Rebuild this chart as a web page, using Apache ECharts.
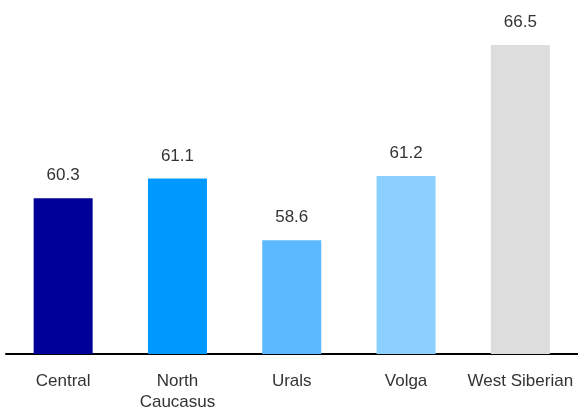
<!DOCTYPE html>
<html>
<head>
<meta charset="utf-8">
<script src="https://cdn.jsdelivr.net/npm/echarts@6/dist/echarts.min.js"></script>
<style>
  html, body { margin: 0; padding: 0; background: #fff; }
  #chart { width: 578px; height: 410px; }
</style>
</head>
<body>
<div id="chart"></div>
<script>
// Regions and their values
var categories = ['Central', 'North\nCaucasus', 'Urals', 'Volga', 'West Siberian'];
var values = [60.3, 61.1, 58.6, 61.2, 66.5];
var barColors = ['#000099', '#0099ff', '#5cb8ff', '#8bd0ff', '#dddddd'];

var chart = echarts.init(document.getElementById('chart'), null, { renderer: 'canvas' });

chart.setOption({
  animation: false,
  backgroundColor: '#ffffff',
  grid: { left: 6, right: 0.5, top: 32.6, bottom: 56, outerBoundsMode: 'none', containLabel: false },
  xAxis: {
    type: 'category',
    data: categories,
    axisLine: { show: true, lineStyle: { color: '#000', width: 2 } },
    axisTick: { show: false },
    axisLabel: {
      color: '#333',
      fontFamily: 'Liberation Sans, Arial, sans-serif',
      fontSize: 17,
      lineHeight: 21,
      margin: 17,
      interval: 0
    }
  },
  yAxis: {
    type: 'value',
    min: 54,
    max: 67,
    show: false,
    splitLine: { show: false }
  },
  series: [{
    type: 'bar',
    data: values.map(function (v, i) {
      return { value: v, itemStyle: { color: barColors[i] } };
    }),
    barWidth: 59,
    label: {
      show: true,
      position: 'top',
      distance: 14,
      color: '#333',
      fontFamily: 'Liberation Sans, Arial, sans-serif',
      fontSize: 17,
      formatter: function (p) { return p.value.toFixed(1); }
    }
  }]
});
</script>
</body>
</html>
